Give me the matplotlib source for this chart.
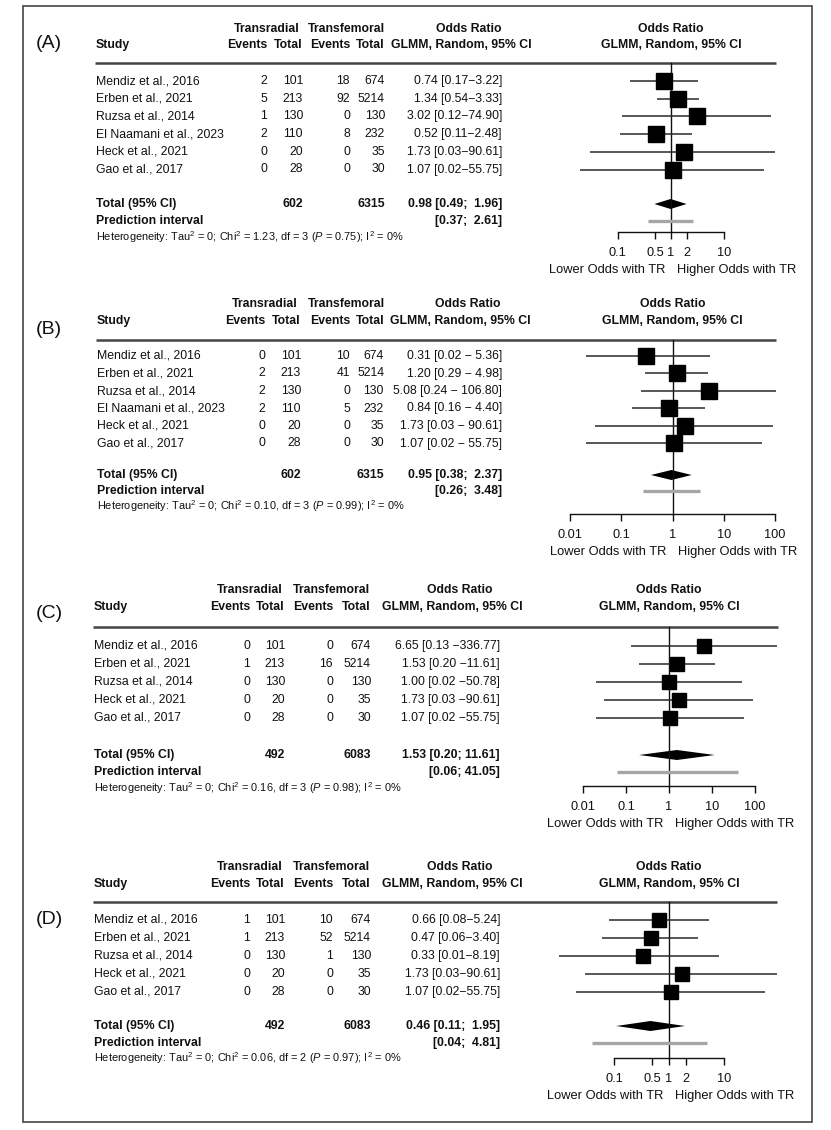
import matplotlib
matplotlib.use('Agg')
import matplotlib.pyplot as plt
from matplotlib.patches import Rectangle
from matplotlib.ticker import NullLocator

plt.rcParams['font.family'] = ['Liberation Sans', 'DejaVu Sans']
plt.rcParams['mathtext.fontset'] = 'custom'
plt.rcParams['mathtext.rm'] = 'Liberation Sans'
plt.rcParams['mathtext.it'] = 'Liberation Sans:italic'
plt.rcParams['mathtext.bf'] = 'Liberation Sans:bold'

W, H = 831, 1130

# ---- data ----
studies_6 = ['Mendiz et al., 2016', 'Erben et al., 2021', 'Ruzsa et al., 2014',
             'El Naamani et al., 2023', 'Heck et al., 2021', 'Gao et al., 2017']
studies_5 = ['Mendiz et al., 2016', 'Erben et al., 2021', 'Ruzsa et al., 2014',
             'Heck et al., 2021', 'Gao et al., 2017']
tr_total_6 = [101, 213, 130, 110, 20, 28]
tf_total_6 = [674, 5214, 130, 232, 35, 30]
tr_total_5 = [101, 213, 130, 20, 28]
tf_total_5 = [674, 5214, 130, 35, 30]

# (A)
a_tr_events = [2, 5, 1, 2, 0, 0]
a_tf_events = [18, 92, 0, 8, 0, 0]
a_or = [0.74, 1.34, 3.02, 0.52, 1.73, 1.07]
a_lo = [0.17, 0.54, 0.12, 0.11, 0.03, 0.02]
a_hi = [3.22, 3.33, 74.90, 2.48, 90.61, 55.75]
a_pooled = [0.98, 0.49, 1.96]
a_pred = [0.37, 2.61]
a_het = [1.23, 3, 0.75]

# (B)
b_tr_events = [0, 2, 2, 2, 0, 0]
b_tf_events = [10, 41, 0, 5, 0, 0]
b_or = [0.31, 1.20, 5.08, 0.84, 1.73, 1.07]
b_lo = [0.02, 0.29, 0.24, 0.16, 0.03, 0.02]
b_hi = [5.36, 4.98, 106.80, 4.40, 90.61, 55.75]
b_pooled = [0.95, 0.38, 2.37]
b_pred = [0.26, 3.48]
b_het = [0.10, 3, 0.99]

# (C)
c_tr_events = [0, 1, 0, 0, 0]
c_tf_events = [0, 16, 0, 0, 0]
c_or = [6.65, 1.53, 1.00, 1.73, 1.07]
c_lo = [0.13, 0.20, 0.02, 0.03, 0.02]
c_hi = [336.77, 11.61, 50.78, 90.61, 55.75]
c_pooled = [1.53, 0.20, 11.61]
c_pred = [0.06, 41.05]
c_het = [0.16, 3, 0.98]

# (D)
d_tr_events = [1, 1, 0, 0, 0]
d_tf_events = [10, 52, 1, 0, 0]
d_or = [0.66, 0.47, 0.33, 1.73, 1.07]
d_lo = [0.08, 0.06, 0.01, 0.03, 0.02]
d_hi = [5.24, 3.40, 8.19, 90.61, 55.75]
d_pooled = [0.46, 0.11, 1.95]
d_pred = [0.04, 4.81]
d_het = [0.06, 2, 0.97]

ticks_a = [0.1, 0.5, 1, 2, 10]
ticks_b = [0.01, 0.1, 1, 10, 100]
tick_labels_a = ['0.1', '0.5', '1', '2', '10']
tick_labels_b = ['0.01', '0.1', '1', '10', '100']

# layout in pixels: header1, header2, rule, first row, row step, total, prediction,
# heterogeneity, axis line
panels = [
    dict(tag='(A)', studies=studies_6, tr_ev=a_tr_events, tr_n=tr_total_6,
         tf_ev=a_tf_events, tf_n=tf_total_6, orr=a_or, lo=a_lo, hi=a_hi,
         pooled=a_pooled, pred=a_pred, het=a_het, tr_sum=602, tf_sum=6315,
         ticks=ticks_a, tlabels=tick_labels_a, sep='\u2212',
         ys=(29, 45, 63, 81, 17.7, 204, 221, 237, 232), label_y=43,
         cols=(96, 267, 303, 350, 385, 502, 461), p1=671, k=53.3, right=776, ms=11),
    dict(tag='(B)', studies=studies_6, tr_ev=b_tr_events, tr_n=tr_total_6,
         tf_ev=b_tf_events, tf_n=tf_total_6, orr=b_or, lo=b_lo, hi=b_hi,
         pooled=b_pooled, pred=b_pred, het=b_het, tr_sum=602, tf_sum=6315,
         ticks=ticks_b, tlabels=tick_labels_b, sep=' \u2212 ',
         ys=(304, 321, 340, 356, 17.5, 475, 491, 506, 514), label_y=329,
         cols=(97, 265, 301, 350, 384, 502, 460), p1=672.5, k=51.2, right=776, ms=11),
    dict(tag='(C)', studies=studies_5, tr_ev=c_tr_events, tr_n=tr_total_5,
         tf_ev=c_tf_events, tf_n=tf_total_5, orr=c_or, lo=c_lo, hi=c_hi,
         pooled=c_pooled, pred=c_pred, het=c_het, tr_sum=492, tf_sum=6083,
         ticks=ticks_b, tlabels=tick_labels_b, sep=' \u2212',
         ys=(590, 607, 627, 646, 18.0, 755, 772, 788, 786), label_y=614,
         cols=(94, 250, 285, 333, 371, 500, 452), p1=669, k=42.8, right=778, ms=10.3),
    dict(tag='(D)', studies=studies_5, tr_ev=d_tr_events, tr_n=tr_total_5,
         tf_ev=d_tf_events, tf_n=tf_total_5, orr=d_or, lo=d_lo, hi=d_hi,
         pooled=d_pooled, pred=d_pred, het=d_het, tr_sum=492, tf_sum=6083,
         ticks=ticks_a, tlabels=tick_labels_a, sep='\u2212',
         ys=(867, 884, 902, 920, 18.0, 1026, 1043, 1058, 1058), label_y=919,
         cols=(94, 250, 285, 333, 371, 500, 452), p1=669, k=55.0, right=777, ms=10.3),
]

FS = 8.8
INK = '#111111'

fig = plt.figure(figsize=(W / 100, H / 100), dpi=100)
bg = fig.add_axes([0, 0, 1, 1])
bg.set_xlim(0, W)
bg.set_ylim(H, 0)
bg.axis('off')
bg.add_patch(Rectangle((23, 6), 789, 1116, fill=False, ec='#444444', lw=1.2))


def draw_panel(p):
    x_st, x_e1, x_n1, x_e2, x_n2, x_or, x_hdr = p['cols']
    top, h2, rule, row0, dy, y_tot, y_pred, y_het, y_axis = p['ys']
    n = len(p['studies'])
    rows = [row0 + i * dy for i in range(n)]

    bg.text(36, p['label_y'], p['tag'], fontsize=14, va='center', ha='left', color=INK)

    # header
    hb = dict(fontsize=FS, fontweight='bold', va='center', color=INK)
    bg.text((x_e1 + x_n1) / 2 - 18, top, 'Transradial', ha='center', **hb)
    bg.text((x_e2 + x_n2) / 2 - 21, top, 'Transfemoral', ha='center', **hb)
    bg.text(x_hdr + 8, top, 'Odds Ratio', ha='center', **hb)
    bg.text(x_st, h2, 'Study', ha='left', **hb)
    bg.text(x_e1, h2, 'Events', ha='right', **hb)
    bg.text(x_n1, h2, 'Total', ha='right', **hb)
    bg.text(x_e2, h2, 'Events', ha='right', **hb)
    bg.text(x_n2, h2, 'Total', ha='right', **hb)
    bg.text(x_hdr, h2, 'GLMM, Random, 95% CI', ha='center', **hb)
    bg.text(p['p1'], top, 'Odds Ratio', ha='center', **hb)
    bg.text(p['p1'], h2, 'GLMM, Random, 95% CI', ha='center', **hb)
    bg.plot([x_st - 1, p['right']], [rule, rule], color='#444444', lw=1.8,
            solid_capstyle='butt')

    # study rows
    rb = dict(fontsize=FS, va='center', color=INK)
    for i, y in enumerate(rows):
        bg.text(x_st, y, p['studies'][i], ha='left', **rb)
        bg.text(x_e1, y, str(p['tr_ev'][i]), ha='right', **rb)
        bg.text(x_n1, y, str(p['tr_n'][i]), ha='right', **rb)
        bg.text(x_e2, y, str(p['tf_ev'][i]), ha='right', **rb)
        bg.text(x_n2, y, str(p['tf_n'][i]), ha='right', **rb)
        s = f"{p['orr'][i]:.2f} [{p['lo'][i]:.2f}{p['sep']}{p['hi'][i]:.2f}]"
        bg.text(x_or, y, s, ha='right', **rb)

    est, plo, phi = p['pooled']
    bg.text(x_st, y_tot, 'Total (95% CI)', ha='left', **hb)
    bg.text(x_n1, y_tot, str(p['tr_sum']), ha='right', **hb)
    bg.text(x_n2, y_tot, str(p['tf_sum']), ha='right', **hb)
    bg.text(x_or, y_tot, f"{est:.2f} [{plo:.2f}; {phi:5.2f}]", ha='right', **hb)
    bg.text(x_st, y_pred, 'Prediction interval', ha='left', **hb)
    bg.text(x_or, y_pred, f"[{p['pred'][0]:.2f}; {p['pred'][1]:5.2f}]", ha='right', **hb)
    chi, df, pv = p['het']
    bg.text(x_st, y_het,
            r'Heterogeneity: Tau$^2$ = 0; Chi$^2$ = ' + f'{chi:.2f}, df = {df} ('
            + r'$P$' + f' = {pv:.2f}); ' + r'I$^2$ = 0%',
            ha='left', va='center', fontsize=7.9, color=INK)

    # forest axes (pixel rows on y, log odds ratio on x)
    x0, x1 = 540, p['right']
    ax = fig.add_axes([x0 / W, 1 - y_axis / H, (x1 - x0) / W, (y_axis - rule) / H])
    ax.set_facecolor('none')
    ax.set_xscale('log')
    ax.set_xlim(10 ** ((x0 - p['p1']) / p['k']), 10 ** ((x1 - p['p1']) / p['k']))
    ax.set_ylim(y_axis, rule)
    for side in ('top', 'right', 'left'):
        ax.spines[side].set_visible(False)
    ax.spines['bottom'].set_bounds(p['ticks'][0], p['ticks'][-1])
    ax.spines['bottom'].set_color(INK)
    ax.spines['bottom'].set_linewidth(1.0)
    ax.set_yticks([])
    ax.set_xticks(p['ticks'])
    ax.set_xticklabels(p['tlabels'])
    ax.xaxis.set_minor_locator(NullLocator())
    ax.tick_params(axis='x', direction='out', length=5, width=1.0, pad=5.5,
                   labelsize=9.2, colors=INK)

    ax.plot([1, 1], [rule, y_axis], color=INK, lw=1.0, clip_on=False)
    ax.hlines(rows, p['lo'], p['hi'], color='#2a2a2a', lw=1.1, clip_on=False)
    ax.plot(p['orr'], rows, 's', ms=p['ms'], color='black', clip_on=False)
    ax.fill([plo, est, phi, est], [y_tot, y_tot - 5, y_tot, y_tot + 5],
            color='black', lw=0, clip_on=False)
    ax.hlines([y_pred], [p['pred'][0]], [p['pred'][1]], color='#a6a6a6', lw=2.4,
              clip_on=False)

    y_lab = y_axis + 38
    bg.text(p['p1'] - 6, y_lab, 'Lower Odds with TR', ha='right', va='center',
            fontsize=9.3, color=INK)
    bg.text(p['p1'] + 6, y_lab, 'Higher Odds with TR', ha='left', va='center',
            fontsize=9.3, color=INK)


for p in panels:
    draw_panel(p)

fig.savefig('out.png', dpi=100, facecolor='white')
